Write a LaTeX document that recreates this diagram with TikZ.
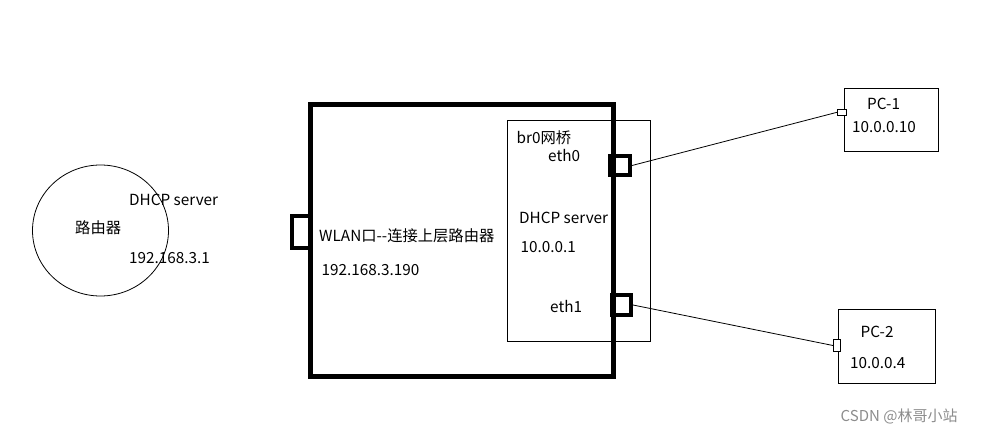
\documentclass[tikz,border=0pt]{standalone}
\usepackage{fontspec}
\setmainfont{Noto Sans CJK SC}
\usetikzlibrary{shapes.geometric}
\begin{document}
\begin{tikzpicture}[x=1pt,y=-1pt,
  lbl/.style={anchor=west,inner sep=0pt,font=\fontsize{15.3}{17}\selectfont},
  small/.style={draw,line width=0.6pt,inner sep=0pt,fill=white},
  port/.style={draw,line width=4pt,inner sep=0pt},
  thin/.style={line width=0.8pt}]
\useasboundingbox (0,0) rectangle (992,435);
% router
\node[draw,thin,ellipse,minimum width=136pt,minimum height=131pt,inner sep=0pt] (router) at (100.5,230.5) {};
\node[lbl] (rname) at (75,228) {路由器};
\node[lbl] (rdhcp) at (129,200) {DHCP server};
\node[lbl] (rip) at (129,258) {192.168.3.1};
% bridge box
\node[draw,thin,inner sep=0pt,minimum width=143pt,minimum height=221pt] (br) at (578.8,230.6) {};
% main device
\node[draw,line width=5pt,inner sep=0pt,minimum width=303.5pt,minimum height=271.5pt] (dev) at (461.75,240.25) {};
\node[port,minimum width=19pt,minimum height=32pt] (wlan) at (301.5,232) {};
\node[port,minimum width=20pt,minimum height=19pt] (eth0) at (620,165.5) {};
\node[port,minimum width=19pt,minimum height=20pt] (eth1) at (621.5,305) {};
% texts in device
\node[lbl] (brl) at (516.5,137.5) {br0网桥};
\node[lbl] (e0l) at (548,156) {eth0};
\node[lbl] (bdhcp) at (519,217.5) {DHCP server};
\node[lbl] (bip) at (520.5,247) {10.0.0.1};
\node[lbl] (e1l) at (550,306.5) {eth1};
\node[lbl] (wlanl) at (319,235.5) {WLAN口-{}-连接上层路由器};
\node[lbl] (wip) at (321.5,270) {192.168.3.190};
% PCs
\node[draw,thin,inner sep=0pt,minimum width=94pt,minimum height=62.5pt] (pc1) at (891.3,119.7) {};
\node[small,minimum width=9pt,minimum height=6pt] (pc1p) at (841.8,112.3) {};
\node[lbl] (pc1n) at (867,104) {PC-1};
\node[lbl] (pc1ip) at (852,127) {10.0.0.10};
\node[draw,thin,inner sep=0pt,minimum width=97.5pt,minimum height=74pt] (pc2) at (887.1,346.3) {};
\node[small,minimum width=7.5pt,minimum height=12.5pt] (pc2p) at (837,345.5) {};
\node[lbl] (pc2n) at (860.5,332) {PC-2};
\node[lbl] (pc2ip) at (850,363) {10.0.0.4};
% links
\draw[thin] (eth0.east) -- (pc1p.west);
\draw[thin] (eth1.east) -- (pc2p.west);
% watermark
\node[anchor=west,inner sep=0pt,text=black!45,font=\fontsize{15}{17}\selectfont] (wm) at (840.5,416) {CSDN @林哥小站};
\end{tikzpicture}
\end{document}
